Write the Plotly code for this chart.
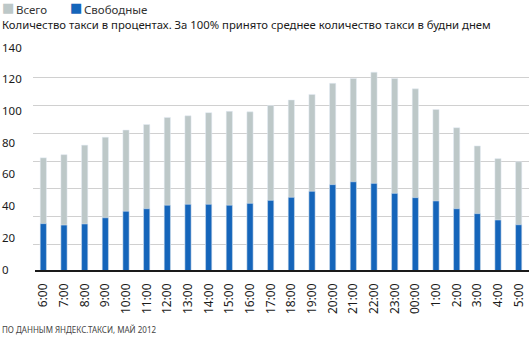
import plotly.graph_objects as go

hours = ["6:00", "7:00", "8:00", "9:00", "10:00", "11:00", "12:00", "13:00", "14:00",
         "15:00", "16:00", "17:00", "18:00", "19:00", "20:00", "21:00", "22:00", "23:00",
         "00:00", "1:00", "2:00", "3:00", "4:00", "5:00"]
total = [72, 74, 80, 85, 89.5, 93, 97.5, 98.5, 100.5, 101.3, 101, 105, 108.5, 112,
         119, 122, 126, 122, 115.5, 102.5, 91, 79.5, 71.5, 69.5]
free = [30.5, 29.6, 30.3, 34.2, 38.3, 39.9, 42.1, 42.7, 42.7, 42.1, 43.3, 45.2, 47.1,
        50.9, 55.1, 56.9, 55.9, 49.6, 46.9, 44.8, 39.9, 36.8, 32.8, 29.8]
y_labels = [0, 20, 40, 60, 80, 100, 120, 140]
series_names = ["Всего", "Свободные"]
grid_step = 17.5

W, H = 531, 337
ML, MR, MT, MB = 33, 2, 50, 65
PW, PH = W - ML - MR, H - MT - MB

def px_x(x):
    return (x - ML) / PW

def px_y(y):
    return (H - MB - y) / PH

GRAY = "#bdc8c8"
BLUE = "#1565ba"
FONT = "Noto Sans"

fig = go.Figure()
fig.add_bar(x=hours, y=total, marker_color=GRAY, width=0.3, name=series_names[0], showlegend=False)
fig.add_bar(x=hours, y=free, marker_color=BLUE, width=0.3, name=series_names[1], showlegend=False)

annotations = []
for v in y_labels:
    annotations.append(dict(x=px_x(0), xref="paper", y=v, yref="y", text=str(v),
                            showarrow=False, xanchor="left", yanchor="middle", yshift=3,
                            font=dict(family=FONT, size=11.5, color="#1a1a1a")))
# legend
for sx, tx, col, name in [(0, 14, GRAY, series_names[0]), (68, 82, BLUE, series_names[1])]:
    annotations.append(dict(x=px_x(sx), xref="paper", y=px_y(8), yref="paper", text="■",
                            showarrow=False, xanchor="left", yanchor="middle",
                            font=dict(family="DejaVu Sans", size=13, color=col)))
    annotations.append(dict(x=px_x(tx), xref="paper", y=px_y(9), yref="paper", text=name,
                            showarrow=False, xanchor="left", yanchor="middle",
                            font=dict(family=FONT, size=11.5, color="#333333")))
annotations.append(dict(x=px_x(0), xref="paper", y=px_y(24), yref="paper",
                        text="Количество такси в процентах. За 100% принято среднее количество такси в будни днем",
                        showarrow=False, xanchor="left", yanchor="middle",
                        font=dict(family=FONT, size=11.3, color="#1a1a1a")))
annotations.append(dict(x=px_x(0), xref="paper", y=px_y(329), yref="paper",
                        text="ПО ДАННЫМ ЯНДЕКС.ТАКСИ, МАЙ 2012",
                        showarrow=False, xanchor="left", yanchor="middle",
                        font=dict(family=FONT, size=8, color="#444444")))

fig.update_layout(
    width=W, height=H,
    margin=dict(l=ML, r=MR, t=MT, b=MB, pad=0),
    paper_bgcolor="white", plot_bgcolor="white",
    barmode="overlay",
    showlegend=False,
    annotations=annotations,
    shapes=[dict(type="line", xref="paper", yref="y", x0=px_x(35), x1=1, y0=0, y1=0,
                 line=dict(color="#1a1a1a", width=4), layer="above")],
    xaxis=dict(type="category", tickangle=-90, showgrid=False, zeroline=False,
               showline=False, ticks="", ticklabelstandoff=8,
               tickfont=dict(family=FONT, size=12, color="#1a1a1a")),
    yaxis=dict(range=[0, 140], tick0=0, dtick=grid_step, showticklabels=False,
               showgrid=True, gridcolor="#d0d0d0", gridwidth=1, zeroline=False,
               showline=False, ticks=""),
)

fig.write_html("out.html")
